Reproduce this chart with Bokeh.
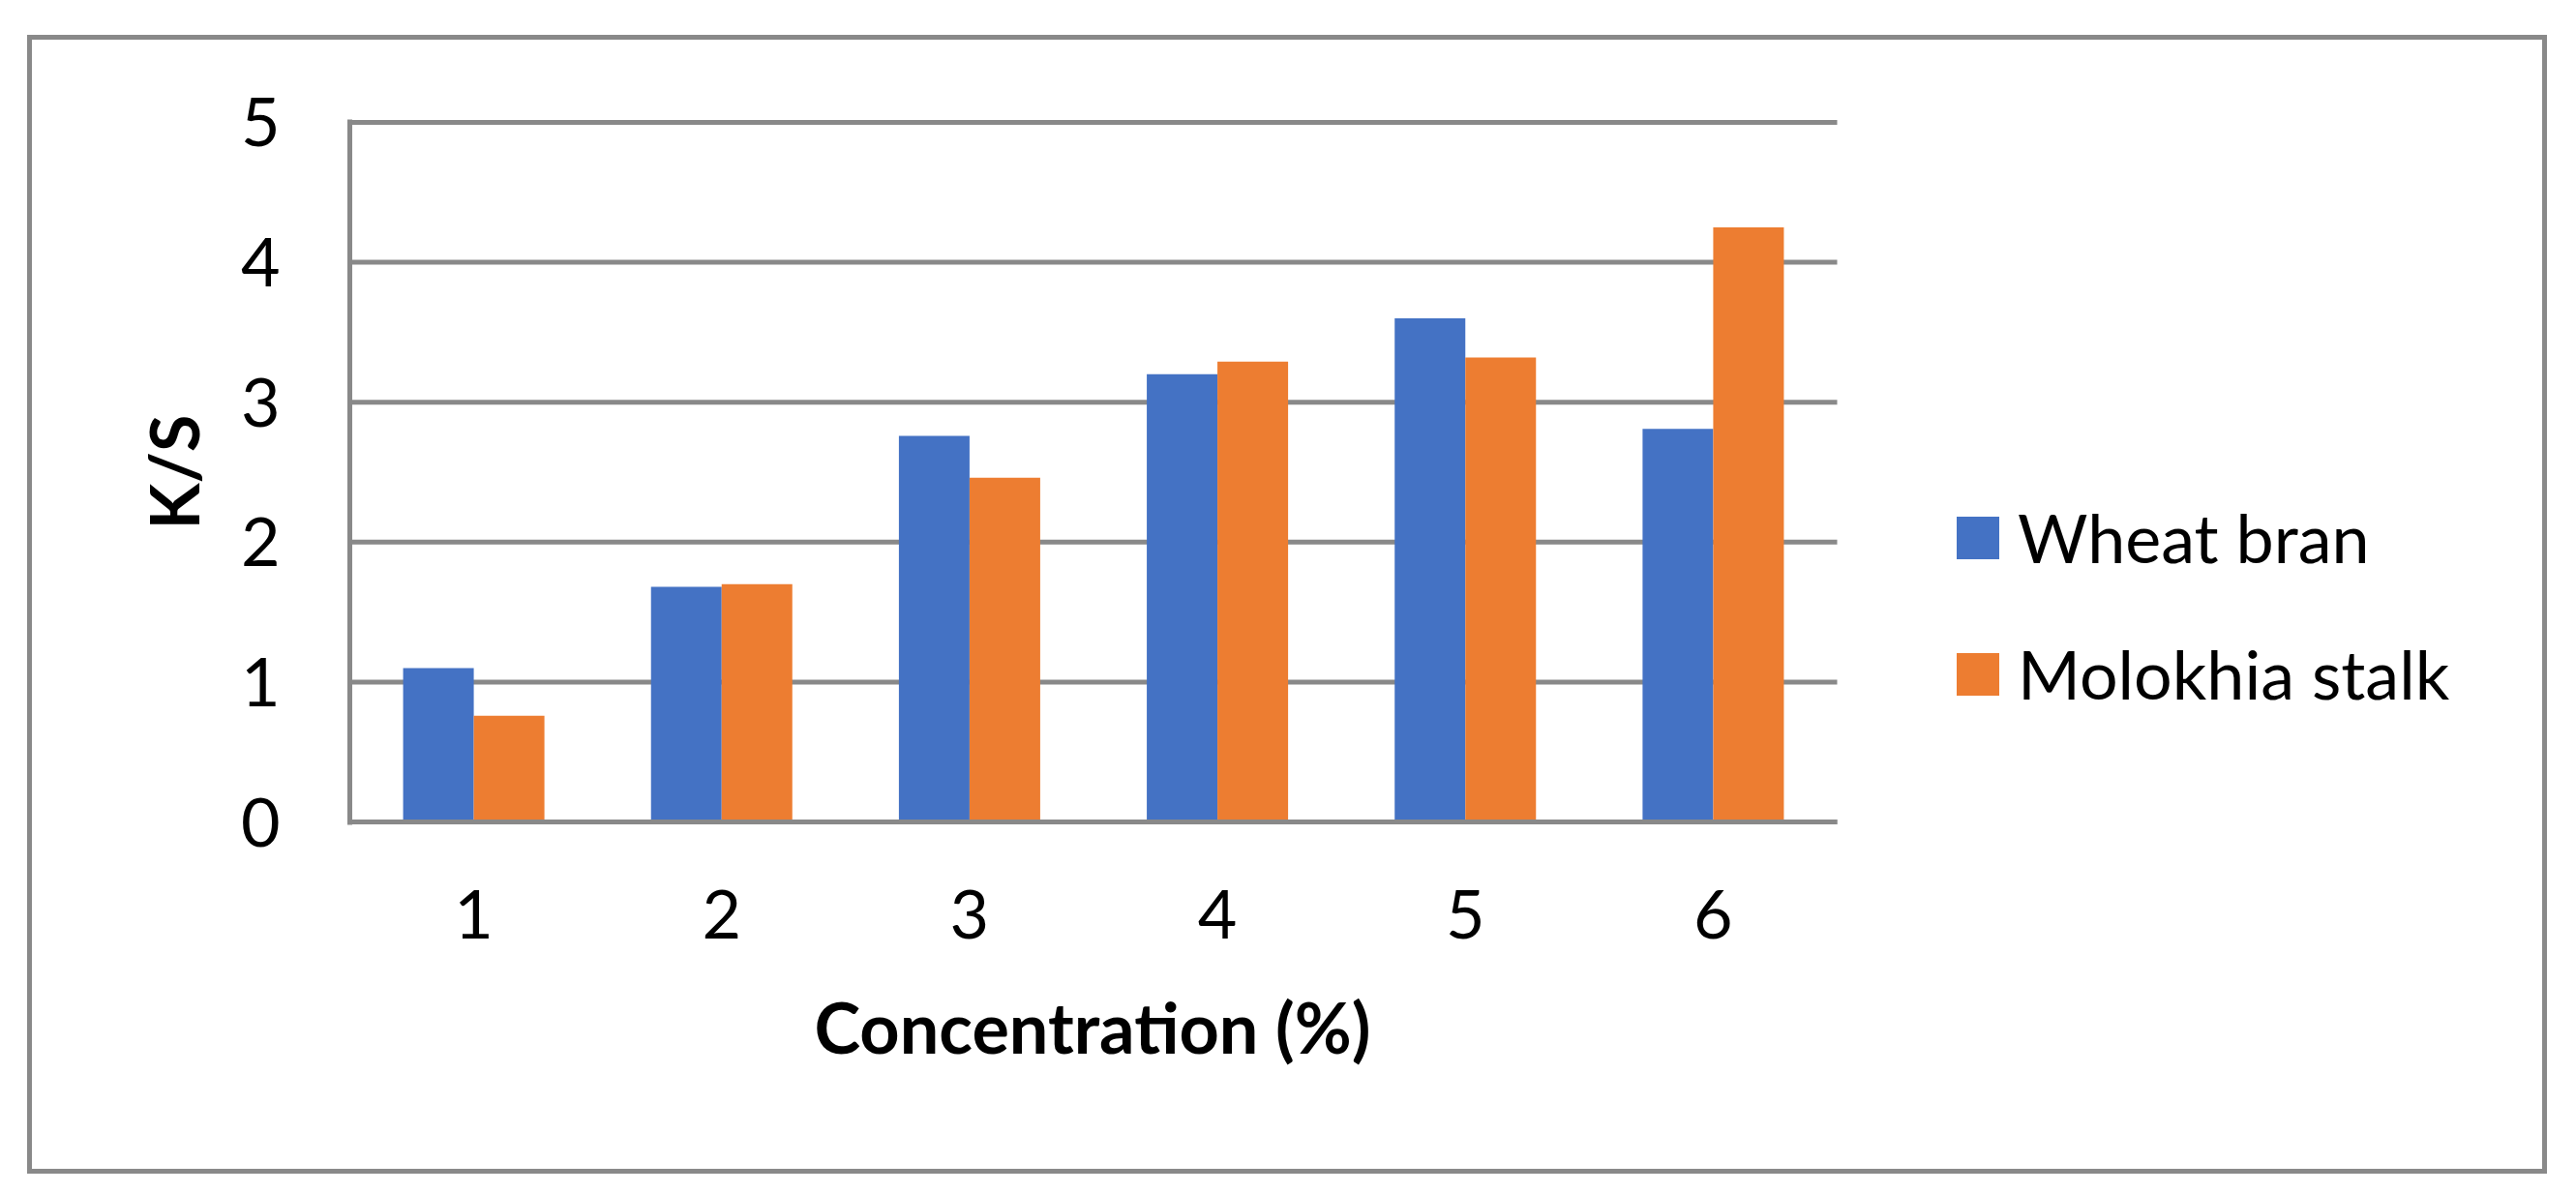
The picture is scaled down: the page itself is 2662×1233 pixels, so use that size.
from bokeh.plotting import figure
from bokeh.models import Range1d, ColumnDataSource, Legend, LegendItem, FixedTicker, Title
from bokeh.transform import dodge
from bokeh.embed import file_html
from bokeh.resources import INLINE

concentrations = ["1", "2", "3", "4", "5", "6"]
wheat_bran = [1.10, 1.68, 2.76, 3.20, 3.60, 2.81]
molokhia_stalk = [0.76, 1.70, 2.46, 3.29, 3.32, 4.25]
y_ticks = [0, 1, 2, 3, 4, 5]
series_names = ["Wheat bran", "Molokhia stalk"]
x_title = "Concentration (%)"
y_title = "K/S"

BLUE = "#4472C4"
ORANGE = "#ED7D31"
GRID = "#898989"
FONT = "Lato"
FS = "70px"

n = len(concentrations)
xs = [i + 0.5 for i in range(n)]          # category centres
src = ColumnDataSource(dict(x=xs, wb=wheat_bran, ms=molokhia_stalk))

W, H = 2594, 1167
BL, BR, BT, BB = 328, 10, 82, 356
frame_w = W - BL - BR
plot_w = 1537                               # pixel width of the category area
x_end = n * frame_w / plot_w

p = figure(x_range=Range1d(0, x_end), y_range=Range1d(-0.02, 5.02),
           width=W, height=H, output_backend="svg", toolbar_location=None,
           min_border_left=BL, min_border_right=BR, min_border_top=BT, min_border_bottom=BB)
p.margin = (41, 0, 0, 33)
p.styles = {"outline": "5px solid #898989", "outline-offset": "0px"}
p.background_fill_color = "white"
p.border_fill_color = "white"
p.outline_line_color = None
p.xgrid.grid_line_color = None
p.ygrid.grid_line_color = None

# horizontal gridlines across the category area
p.segment(x0=0, x1=n, y0=y_ticks, y1=y_ticks, line_color=GRID, line_width=5)

bw = 0.285
r1 = p.vbar(x=dodge("x", -bw / 2), top="wb", width=bw, source=src,
            fill_color=BLUE, line_color=None)
r2 = p.vbar(x=dodge("x", bw / 2), top="ms", width=bw, source=src,
            fill_color=ORANGE, line_color=None)

# category axis line at 0 drawn over the bars
p.segment(x0=[0], x1=[n], y0=[0], y1=[0], line_color=GRID, line_width=5)

p.yaxis.ticker = y_ticks
p.yaxis.minor_tick_line_color = None
p.yaxis.major_tick_line_color = None
p.yaxis.major_tick_out = 0
p.yaxis.axis_line_color = GRID
p.yaxis.axis_line_width = 5
p.yaxis.major_label_text_font = FONT
p.yaxis.major_label_text_font_size = FS
p.yaxis.major_label_text_color = "black"
p.yaxis.major_label_standoff = 72
p.yaxis.axis_label = y_title
p.yaxis.axis_label_text_font = FONT
p.yaxis.axis_label_text_font_size = FS
p.yaxis.axis_label_text_font_style = "bold"
p.yaxis.axis_label_text_color = "black"
p.yaxis.axis_label_standoff = 25

p.xaxis.ticker = FixedTicker(ticks=xs)
p.xaxis.major_label_overrides = {x: c for x, c in zip(xs, concentrations)}
p.xaxis.axis_line_color = None
p.xaxis.major_tick_line_color = None
p.xaxis.minor_tick_line_color = None
p.xaxis.major_tick_out = 0
p.xaxis.major_label_text_font = FONT
p.xaxis.major_label_text_font_size = FS
p.xaxis.major_label_text_color = "black"
p.xaxis.major_label_standoff = 67

p.add_layout(Title(text=x_title, align="left", offset=480, standoff=87,
                   text_font=FONT, text_font_size="72px", text_font_style="bold",
                   text_color="black"), "below")

legend = Legend(items=[LegendItem(label=series_names[0], renderers=[r1]),
                       LegendItem(label=series_names[1], renderers=[r2])],
                location=(1655, 114), orientation="vertical",
                glyph_width=55, glyph_height=55, label_standoff=14,
                label_text_font=FONT, label_text_font_size=FS, label_text_color="black",
                spacing=57, padding=0, margin=0,
                border_line_color=None, background_fill_alpha=0)
p.add_layout(legend)

open("out.html", "w").write(file_html(p, INLINE))
